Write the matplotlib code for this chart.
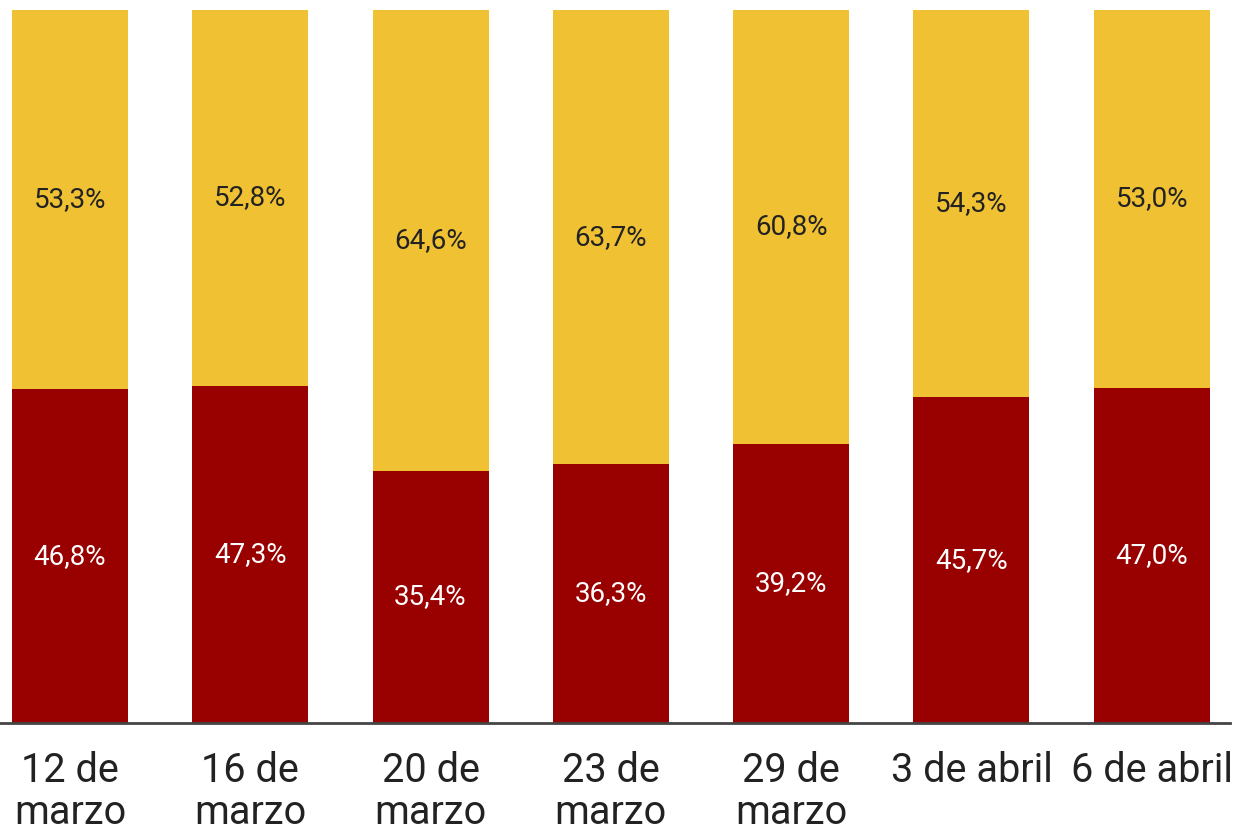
import numpy as np
import matplotlib
matplotlib.use("Agg")
import matplotlib.pyplot as plt

plt.rcParams['font.family'] = ['Roboto', 'DejaVu Sans']

fechas = ['12 de\nmarzo', '16 de\nmarzo', '20 de\nmarzo', '23 de\nmarzo',
          '29 de\nmarzo', '3 de abril', '6 de abril']
rojo = [46.8, 47.3, 35.4, 36.3, 39.2, 45.7, 47.0]
amarillo = [53.3, 52.8, 64.6, 63.7, 60.8, 54.3, 53.0]

color_rojo = '#990000'
color_amarillo = '#F0C233'

fig = plt.figure(figsize=(12.43, 8.39), dpi=100)
ax = fig.add_axes([0, 116 / 839, 1230 / 1243, 713 / 839])

x = np.arange(len(fechas))
ancho = 0.643
ax.bar(x, rojo, width=ancho, color=color_rojo)
ax.bar(x, amarillo, width=ancho, bottom=rojo, color=color_amarillo)

for i in range(len(fechas)):
    r = rojo[i]
    a = amarillo[i]
    ax.text(x[i], r / 2, f'{r:.1f}%'.replace('.', ','), ha='center', va='center',
            color='white', fontsize=20)
    ax.text(x[i], r + a / 2, f'{a:.1f}%'.replace('.', ','), ha='center', va='center',
            color='#222222', fontsize=20)

ax.set_xlim(-0.388, 6.434)
ax.set_ylim(0, 100)
ax.set_xticks(x)
ax.set_xticklabels(fechas, fontsize=28.5, color='#222222', linespacing=1.1)
ax.tick_params(axis='x', length=0, pad=20)
ax.set_yticks([])
for s in ['top', 'right', 'left']:
    ax.spines[s].set_visible(False)
ax.spines['bottom'].set_color('#444444')
ax.spines['bottom'].set_linewidth(2)

fig.savefig('out.png', dpi=100)
